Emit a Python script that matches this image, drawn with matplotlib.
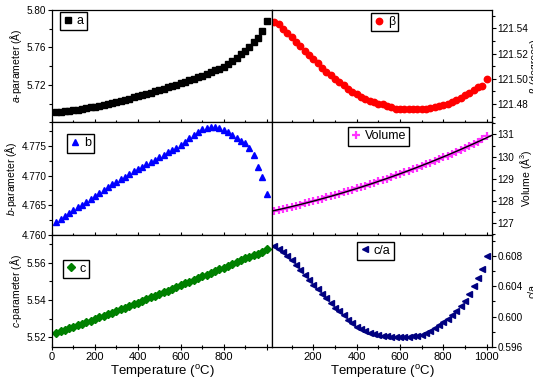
import numpy as np
import matplotlib
matplotlib.use('Agg')
import matplotlib.pyplot as plt
from matplotlib.ticker import MultipleLocator, FixedLocator

plt.rcParams['font.family'] = ['Liberation Sans', 'DejaVu Sans']
plt.rcParams['mathtext.fontset'] = 'custom'
plt.rcParams['mathtext.rm'] = 'Liberation Sans'
plt.rcParams['mathtext.it'] = 'Liberation Sans:italic'

# temperatures (C)
temp = [20, 40, 60, 80, 100, 120, 140, 160, 180, 200,
        220, 240, 260, 280, 300, 320, 340, 360, 380, 400,
        420, 440, 460, 480, 500, 520, 540, 560, 580, 600,
        620, 640, 660, 680, 700, 720, 740, 760, 780, 800,
        820, 840, 860, 880, 900, 920, 940, 960, 980, 1000]

a_par = [5.6907, 5.6912, 5.6917, 5.6923, 5.6929, 5.6936, 5.6943, 5.6951, 5.6960, 5.6969,
         5.6978, 5.6987, 5.6997, 5.7008, 5.7019, 5.7030, 5.7042, 5.7054, 5.7066, 5.7079,
         5.7091, 5.7104, 5.7117, 5.7131, 5.7145, 5.7159, 5.7174, 5.7189, 5.7204, 5.7220,
         5.7235, 5.7251, 5.7267, 5.7283, 5.7300, 5.7317, 5.7336, 5.7355, 5.7375, 5.7396,
         5.7425, 5.7460, 5.7492, 5.7525, 5.7565, 5.7607, 5.7654, 5.7703, 5.7778, 5.7882]

beta = [121.5452, 121.5432, 121.5395, 121.5360, 121.5328, 121.5292, 121.5258, 121.5222, 121.5192, 121.5158,
        121.5125, 121.5088, 121.5056, 121.5032, 121.5002, 121.4975, 121.4948, 121.4922, 121.4895, 121.4877,
        121.4858, 121.4839, 121.4825, 121.4815, 121.4803, 121.4796, 121.4786, 121.4776, 121.4763, 121.4760,
        121.4758, 121.4757, 121.4757, 121.4757, 121.4758, 121.4762, 121.4768, 121.4775, 121.4783, 121.4790,
        121.4802, 121.4818, 121.4835, 121.4850, 121.4868, 121.4890, 121.4912, 121.4937, 121.4942, 121.4998]

b_par = [4.7622, 4.7627, 4.7631, 4.7636, 4.7641, 4.7646, 4.7651, 4.7656, 4.7661, 4.7666,
         4.7671, 4.7675, 4.7680, 4.7685, 4.7689, 4.7694, 4.7698, 4.7702, 4.7707, 4.7711,
         4.7715, 4.7719, 4.7723, 4.7727, 4.7731, 4.7735, 4.7739, 4.7743, 4.7747, 4.7751,
         4.7757, 4.7763, 4.7769, 4.7774, 4.7778, 4.7781, 4.7782, 4.7782, 4.7780, 4.7777,
         4.7773, 4.7768, 4.7763, 4.7759, 4.7755, 4.7746, 4.7734, 4.7714, 4.7697, 4.7668]

volume = [127.53, 127.58, 127.63, 127.68, 127.73, 127.78, 127.83, 127.89, 127.94, 127.99,
          128.05, 128.10, 128.16, 128.21, 128.27, 128.33, 128.39, 128.45, 128.51, 128.57,
          128.63, 128.69, 128.75, 128.82, 128.88, 128.95, 129.01, 129.08, 129.15, 129.22,
          129.29, 129.36, 129.43, 129.50, 129.58, 129.65, 129.73, 129.81, 129.88, 129.96,
          130.04, 130.13, 130.21, 130.30, 130.39, 130.48, 130.58, 130.68, 130.80, 130.95]

c_par = [5.5225, 5.5232, 5.5240, 5.5248, 5.5256, 5.5264, 5.5272, 5.5281, 5.5289, 5.5298,
         5.5306, 5.5315, 5.5323, 5.5332, 5.5341, 5.5350, 5.5359, 5.5368, 5.5377, 5.5386,
         5.5395, 5.5404, 5.5413, 5.5422, 5.5432, 5.5441, 5.5450, 5.5460, 5.5469, 5.5479,
         5.5488, 5.5497, 5.5507, 5.5516, 5.5526, 5.5535, 5.5545, 5.5554, 5.5564, 5.5573,
         5.5583, 5.5593, 5.5603, 5.5612, 5.5622, 5.5632, 5.5641, 5.5645, 5.5655, 5.5673]

c_over_a = [0.6093, 0.6089, 0.6085, 0.6080, 0.6074, 0.6068, 0.6062, 0.6055, 0.6048, 0.6042,
            0.6036, 0.6030, 0.6024, 0.6018, 0.6012, 0.6007, 0.6002, 0.5996, 0.5992, 0.5987,
            0.5984, 0.5981, 0.5979, 0.5977, 0.5976, 0.5975, 0.5974, 0.5973, 0.5973, 0.5973,
            0.5973, 0.5973, 0.5974, 0.5975, 0.5976, 0.5978, 0.5981, 0.5985, 0.5989, 0.5993,
            0.5997, 0.6002, 0.6008, 0.6014, 0.6021, 0.6030, 0.6040, 0.6051, 0.6063, 0.6080]

fig, axs = plt.subplots(3, 2, figsize=(5.33, 3.84), dpi=100)
fig.subplots_adjust(left=52/533, right=492/533, top=1-10/384, bottom=1-347/384,
                    wspace=0, hspace=0)

def legend(ax, x, y, handles=None, labels=None):
    kw = dict(loc='upper left', bbox_to_anchor=(x, y), fontsize=9, frameon=True,
              fancybox=False, edgecolor='black', framealpha=1, handlelength=0.8,
              handletextpad=0.3, borderpad=0.25, borderaxespad=0, numpoints=1)
    if handles is None:
        ax.legend(**kw)
    else:
        ax.legend(handles, labels, **kw)

# left column
ax = axs[0, 0]
ax.plot(temp, a_par, 's', color='black', ms=4.3, label='a')
ax.set_ylim(5.68, 5.80)
ax.yaxis.set_major_locator(FixedLocator([5.72, 5.76, 5.80]))
ax.yaxis.set_minor_locator(MultipleLocator(0.02))
ax.set_ylabel('$a$-parameter (Å)', fontsize=7.5, labelpad=2)
legend(ax, 0.036, 0.982)

ax = axs[1, 0]
ax.plot(temp, b_par, '^', color='#0000FF', ms=5, label='b')
ax.set_ylim(4.760, 4.779)
ax.yaxis.set_major_locator(FixedLocator([4.760, 4.765, 4.770, 4.775]))
ax.yaxis.set_minor_locator(MultipleLocator(0.0025))
ax.set_ylabel('$b$-parameter (Å)', fontsize=7.5, labelpad=2)
legend(ax, 0.068, 0.893)

ax = axs[2, 0]
ax.plot(temp, c_par, 'D', color='#008000', ms=4, label='c')
ax.set_ylim(5.5148, 5.5749)
ax.yaxis.set_major_locator(FixedLocator([5.52, 5.54, 5.56]))
ax.yaxis.set_minor_locator(MultipleLocator(0.01))
ax.set_ylabel('$c$-parameter (Å)', fontsize=7.5, labelpad=2)
legend(ax, 0.05, 0.778)

# right column
ax = axs[0, 1]
ax.plot(temp, beta, 'o', color='#FF0000', ms=4.6, label='β')
ax.set_ylim(121.4654, 121.5546)
ax.yaxis.set_major_locator(FixedLocator([121.48, 121.50, 121.52, 121.54]))
ax.yaxis.set_minor_locator(MultipleLocator(0.01))
ax.set_ylabel('β (degrees)', fontsize=7.5)
ax.yaxis.set_label_coords(1.172, 0.5)
legend(ax, 0.45, 0.973)

ax = axs[1, 1]
ax.plot(temp, volume, '+', color='#FF33FF', ms=6, mew=1.6, label='Volume')
fit = np.polyfit(temp, volume, 2)
tfit = np.linspace(10, 1025, 200)
ax.plot(tfit, np.polyval(fit, tfit), '-', color='black', lw=1)
ax.set_ylim(126.47, 131.55)
ax.yaxis.set_major_locator(MultipleLocator(1))
ax.yaxis.set_minor_locator(MultipleLocator(0.5))
ax.set_ylabel('Volume (Å$^3$)', fontsize=7.5)
ax.yaxis.set_label_coords(1.118, 0.5)
h, l = ax.get_legend_handles_labels()
legend(ax, 0.345, 0.956, h[:1], l[:1])

ax = axs[2, 1]
ax.plot(temp, c_over_a, '<', color='#000080', ms=5, label='c/a')
ax.set_ylim(0.596, 0.6108)
ax.yaxis.set_major_locator(FixedLocator([0.596, 0.600, 0.604, 0.608]))
ax.yaxis.set_minor_locator(MultipleLocator(0.002))
ax.set_ylabel('c/a', fontsize=7.5)
ax.yaxis.set_label_coords(1.16, 0.5)
legend(ax, 0.386, 0.938)

for r in range(3):
    for c in range(2):
        ax = axs[r, c]
        if c == 0:
            ax.set_xlim(0, 1025)
            ax.xaxis.set_major_locator(FixedLocator([0, 200, 400, 600, 800, 1000]))
        else:
            ax.set_xlim(10, 1025)
            ax.xaxis.set_major_locator(FixedLocator([200, 400, 600, 800, 1000]))
            ax.yaxis.tick_right()
            ax.yaxis.set_label_position('right')
        ax.xaxis.set_minor_locator(MultipleLocator(100))
        ax.tick_params(axis='x', which='major', direction='inout', length=5, width=0.8,
                       labelsize=8, pad=1)
        ax.tick_params(axis='x', which='minor', direction='inout', length=3, width=0.8)
        ax.tick_params(axis='y', which='major', direction='out', length=3, width=0.8,
                       labelsize=7.2, pad=1)
        ax.tick_params(axis='y', which='minor', direction='out', length=2, width=0.8)
        for s in ax.spines.values():
            s.set_linewidth(0.9)
        if r < 2:
            ax.tick_params(axis='x', labelbottom=False)
        else:
            ax.set_xlabel('Temperature ($^{\\rm o}$C)', fontsize=9.5, labelpad=1)

# hide the 1000 label on the left column
labels = ['0', '200', '400', '600', '800', '']
axs[2, 0].set_xticklabels(labels)

fig.savefig('out.png', dpi=100)
